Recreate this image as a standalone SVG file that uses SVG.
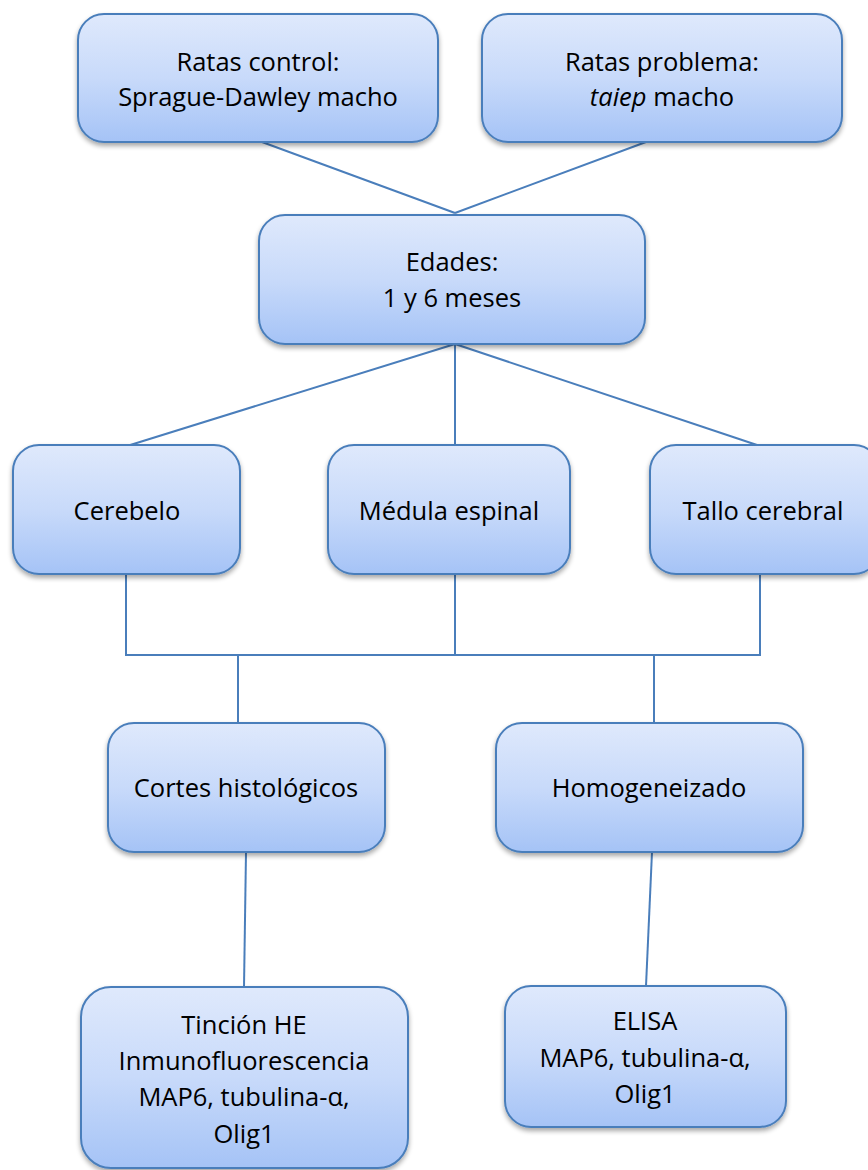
<svg xmlns="http://www.w3.org/2000/svg" width="868" height="1170" viewBox="0 0 868 1170">
<defs>
<linearGradient id="g" x1="0" y1="0" x2="0" y2="1">
<stop offset="0" stop-color="#dfe9fc"/>
<stop offset="0.5" stop-color="#c8dafa"/>
<stop offset="1" stop-color="#a5c3f6"/>
</linearGradient>
<filter id="sh" x="-10%" y="-10%" width="120%" height="130%">
<feGaussianBlur in="SourceAlpha" stdDeviation="2.5"/>
<feOffset dx="0" dy="3" result="b"/>
<feComponentTransfer><feFuncA type="linear" slope="0.35"/></feComponentTransfer>
<feMerge><feMergeNode/><feMergeNode in="SourceGraphic"/></feMerge>
</filter>
</defs>
<style>
.box{fill:url(#g);stroke:#4a7ebb;stroke-width:2;filter:url(#sh)}
.t{font-family:"Open Sans","Liberation Sans",sans-serif;font-size:25.5px;fill:#000;text-anchor:middle}
.c{stroke:#4a7ebb;stroke-width:2;fill:none}
</style>
<g id="connectors">
<line class="c" x1="262" y1="142" x2="455" y2="213"/>
<line class="c" x1="646" y1="142" x2="455" y2="213"/>
<line class="c" x1="455" y1="344" x2="127" y2="446"/>
<line class="c" x1="455" y1="344" x2="455" y2="446"/>
<line class="c" x1="455" y1="344" x2="760" y2="446"/>
<polyline class="c" points="126,574 126,655 760,655 760,574"/>
<line class="c" x1="455" y1="574" x2="455" y2="655"/>
<line class="c" x1="238" y1="655" x2="238" y2="724"/>
<line class="c" x1="654" y1="655" x2="654" y2="724"/>
<line class="c" x1="246" y1="852" x2="244" y2="987"/>
<line class="c" x1="652" y1="852" x2="646" y2="986"/>
</g>
<g id="n1">
<rect class="box" x="78" y="14" width="360" height="128" rx="26"/>
<text class="t" x="258" y="71">Ratas control:</text>
<text class="t" x="258" y="106">Sprague-Dawley macho</text>
</g>
<g id="n2">
<rect class="box" x="482" y="14" width="360" height="128" rx="26"/>
<text class="t" x="662" y="71">Ratas problema:</text>
<text class="t" x="662" y="106"><tspan font-style="italic">taiep</tspan> macho</text>
</g>
<g id="n3">
<rect class="box" x="259" y="215" width="386" height="129" rx="26"/>
<text class="t" x="452" y="271">Edades:</text>
<text class="t" x="452" y="307">1 y 6 meses</text>
</g>
<g id="n4">
<rect class="box" x="13" y="445" width="227" height="129" rx="26"/>
<text class="t" x="127" y="520">Cerebelo</text>
</g>
<g id="n5">
<rect class="box" x="328" y="445" width="242" height="129" rx="26"/>
<text class="t" x="449" y="520">Médula espinal</text>
</g>
<g id="n6">
<rect class="box" x="650" y="445" width="230" height="129" rx="26"/>
<text class="t" x="763" y="520">Tallo cerebral</text>
</g>
<g id="n7">
<rect class="box" x="108" y="723" width="277" height="129" rx="26"/>
<text class="t" x="246" y="797">Cortes histológicos</text>
</g>
<g id="n8">
<rect class="box" x="496" y="723" width="307" height="129" rx="26"/>
<text class="t" x="649" y="797">Homogeneizado</text>
</g>
<g id="n9">
<rect class="box" x="81" y="987" width="327" height="181" rx="30"/>
<text class="t" x="244" y="1034">Tinción HE</text>
<text class="t" x="244" y="1070">Inmunofluorescencia</text>
<text class="t" x="244" y="1106">MAP6, tubulina-α,</text>
<text class="t" x="244" y="1143">Olig1</text>
</g>
<g id="n10">
<rect class="box" x="505" y="986" width="281" height="141" rx="26"/>
<text class="t" x="645" y="1030">ELISA</text>
<text class="t" x="645" y="1067">MAP6, tubulina-α,</text>
<text class="t" x="645" y="1103">Olig1</text>
</g>
</svg>
